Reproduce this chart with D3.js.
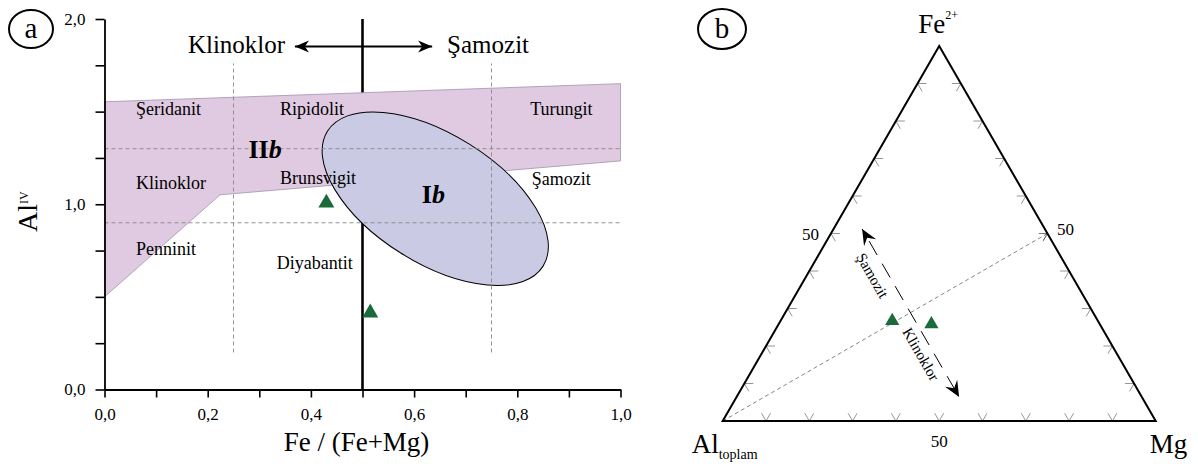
<!DOCTYPE html>
<html>
<head>
<meta charset="utf-8">
<script src="https://cdn.jsdelivr.net/npm/d3@7"></script>
<style>
  body { margin: 0; background: #fff; }
  svg, svg text { font-family: "Liberation Serif", "DejaVu Serif", serif; }
</style>
</head>
<body>
<svg id="chart" width="1198" height="464"></svg>
<script>
// ---- panel a data: Al(IV) vs Fe/(Fe+Mg) ----
var feRatio = [0.43, 0.515];
var alIV = [1.007, 0.414];

// IIb field outline, [Fe/(Fe+Mg), Al IV]
var fieldIIb = [[0, 1.553], [1.0, 1.651], [1.0, 1.234], [0.224, 1.051], [0, 0.5]];
// Ib field ellipse: centre, end of major semi-axis, end of minor semi-axis
var fieldIb = [[0.641, 1.03], [0.850, 0.666], [0.575, 0.735]];

var gridX = [0.25, 0.75];
var gridY = [1.3, 0.9];

var xTickValues = [0, 0.1, 0.2, 0.3, 0.4, 0.5, 0.6, 0.7, 0.8, 0.9, 1.0];
var xTickLabels = ['0,0', '', '0,2', '', '0,4', '', '0,6', '', '0,8', '', '1,0'];
var yTickValues = [0, 0.25, 0.5, 0.75, 1.0, 1.25, 1.5, 1.75, 2.0];
var yTickLabels = ['0,0', '', '', '', '1,0', '', '', '', '2,0'];

var regionNames = ['Şeridanit', 'Ripidolit', 'Turungit', 'Klinoklor', 'Brunsvigit', 'Şamozit', 'Penninit', 'Diyabantit'];
var regionAt = [[0.061, 1.482], [0.340, 1.482], [0.825, 1.482], [0.061, 1.081],
                [0.340, 1.109], [0.828, 1.104], [0.061, 0.726], [0.334, 0.649]];

// ---- panel b data: ternary Al(toplam) - Fe2+ - Mg, in % ----
var ternAl = [47.5, 38.9];
var ternFe = [26.7, 25.8];
var ternMg = [25.8, 35.3];
var ternTicks = [10, 20, 30, 40, 50, 60, 70, 80, 90];

var serif = '"Liberation Serif", "DejaVu Serif", serif';
var svg = d3.select('#chart').attr('font-family', serif);
var defs = svg.append('defs');

function headMarker(id, path, fill, stroke) {
  defs.append('marker')
    .attr('id', id)
    .attr('viewBox', '-18 -9 20 18')
    .attr('refX', 0)
    .attr('refY', 0)
    .attr('markerWidth', 20)
    .attr('markerHeight', 18)
    .attr('markerUnits', 'userSpaceOnUse')
    .attr('orient', 'auto-start-reverse')
    .append('path')
      .attr('d', path)
      .attr('fill', fill)
      .attr('stroke', stroke || 'none');
}
headMarker('headA', 'M0,0 L-14,-6 L-10,0 L-14,6 Z', '#000');
headMarker('headB', 'M0,0 L-16,-7 L-10,0 L-16,7 Z', '#000');
headMarker('chev', 'M-7,-4 L0,0 L-7,4', 'none', '#777');

// =================== panel a ===================
var x = d3.scaleLinear().domain([0, 1]).range([104.5, 620.5]);
var y = d3.scaleLinear().domain([0, 2]).range([389.5, 19]);

var a = svg.append('g');

// Klinoklor / Samozit divide
a.append('line')
  .attr('x1', x(0.5)).attr('x2', x(0.5))
  .attr('y1', y(0)).attr('y2', y(2))
  .attr('stroke', '#000')
  .attr('stroke-width', 2.6);

// IIb field
a.append('path')
  .attr('d', d3.line().x(function(d) { return x(d[0]); }).y(function(d) { return y(d[1]); })(fieldIIb) + 'Z')
  .attr('fill', '#dfcae1')
  .attr('stroke', '#a293b0')
  .attr('stroke-width', 0.8);

// Ib field
var ec = [x(fieldIb[0][0]), y(fieldIb[0][1])];
var em = [x(fieldIb[1][0]), y(fieldIb[1][1])];
var en = [x(fieldIb[2][0]), y(fieldIb[2][1])];
a.append('ellipse')
  .attr('cx', ec[0])
  .attr('cy', ec[1])
  .attr('rx', Math.hypot(em[0] - ec[0], em[1] - ec[1]))
  .attr('ry', Math.hypot(en[0] - ec[0], en[1] - ec[1]))
  .attr('transform', 'rotate(' + (Math.atan2(em[1] - ec[1], em[0] - ec[0]) * 180 / Math.PI) + ',' + ec[0] + ',' + ec[1] + ')')
  .attr('fill', '#cacae5')
  .attr('stroke', '#000')
  .attr('stroke-width', 1);

// dashed divisions
a.selectAll('.gy').data(gridY).enter().append('line')
  .attr('x1', x(0)).attr('x2', x(1))
  .attr('y1', function(d) { return y(d); })
  .attr('y2', function(d) { return y(d); })
  .attr('stroke', '#888').attr('stroke-width', 0.9).attr('stroke-dasharray', '4,3');
a.selectAll('.gx').data(gridX).enter().append('line')
  .attr('x1', function(d) { return x(d); })
  .attr('x2', function(d) { return x(d); })
  .attr('y1', y(0.2)).attr('y2', y(1.76))
  .attr('stroke', '#888').attr('stroke-width', 0.9).attr('stroke-dasharray', '4,3');

// axes
var xAxis = a.append('g')
  .attr('transform', 'translate(0,' + y(0) + ')')
  .call(d3.axisBottom(x).tickValues(xTickValues)
    .tickFormat(function(d, i) { return xTickLabels[i]; })
    .tickSize(8).tickPadding(10).tickSizeOuter(0));
var yAxis = a.append('g')
  .attr('transform', 'translate(' + x(0) + ',0)')
  .call(d3.axisLeft(y).tickValues(yTickValues)
    .tickFormat(function(d, i) { return yTickLabels[i]; })
    .tickSize(9).tickPadding(10).tickSizeOuter(0));
[xAxis, yAxis].forEach(function(ax) {
  ax.attr('font-family', serif).attr('font-size', 17);
  ax.select('.domain').attr('stroke-width', 1.8);
  ax.selectAll('.tick line').attr('stroke-width', 1.6);
});

// region names
a.selectAll('.rn').data(regionNames).enter().append('text')
  .attr('x', function(d, i) { return x(regionAt[i][0]); })
  .attr('y', function(d, i) { return y(regionAt[i][1]); })
  .attr('font-size', 18)
  .text(function(d) { return d; });

var t2 = a.append('text').attr('x', x(0.279)).attr('y', y(1.248)).attr('font-size', 26).attr('font-weight', 'bold');
t2.append('tspan').text('II');
t2.append('tspan').attr('font-style', 'italic').text('b');
var t1 = a.append('text').attr('x', x(0.615)).attr('y', y(1.005)).attr('font-size', 26).attr('font-weight', 'bold');
t1.append('tspan').text('I');
t1.append('tspan').attr('font-style', 'italic').text('b');

// Klinoklor <-> Samozit
a.append('line')
  .attr('x1', x(0.369)).attr('x2', x(0.635))
  .attr('y1', y(1.851)).attr('y2', y(1.851))
  .attr('stroke', '#000').attr('stroke-width', 2)
  .attr('marker-start', 'url(#headA)')
  .attr('marker-end', 'url(#headA)');
a.append('text').attr('x', x(0.350)).attr('y', y(1.816)).attr('text-anchor', 'end')
  .attr('font-size', 25).text('Klinoklor');
a.append('text').attr('x', x(0.664)).attr('y', y(1.816))
  .attr('font-size', 25).text('Şamozit');

// samples
a.selectAll('.pt').data(feRatio).enter().append('path')
  .attr('d', d3.symbol().type(d3.symbolTriangle).size(111))
  .attr('transform', function(d, i) { return 'translate(' + x(d) + ',' + y(alIV[i]) + ')'; })
  .attr('fill', '#1b6b3a');

// axis titles
a.append('text').attr('x', 356.5).attr('y', 451).attr('text-anchor', 'middle')
  .attr('font-size', 27).text('Fe / (Fe+Mg)');
var yl = a.append('text').attr('transform', 'translate(37,232) rotate(-90)').attr('font-size', 28);
yl.append('tspan').text('Al');
yl.append('tspan').attr('font-size', 12).attr('dy', -9).text('IV');

// panel tag
a.append('ellipse').attr('cx', 31).attr('cy', 29).attr('rx', 22).attr('ry', 19)
  .attr('fill', 'none').attr('stroke', '#000').attr('stroke-width', 2);
a.append('text').attr('x', 31).attr('y', 38).attr('text-anchor', 'middle').attr('font-size', 29).text('a');

// =================== panel b ===================
var tx = d3.scaleLinear().domain([0, 100]).range([722.7, 1155.7]);
var ty = d3.scaleLinear().domain([0, 100]).range([421, 421 - 433 * Math.sqrt(3) / 2]);
function tern(al, fe, mg) { return [tx(mg + fe / 2), ty(fe)]; }

var b = svg.append('g');
var pAl = tern(100, 0, 0), pFe = tern(0, 100, 0), pMg = tern(0, 0, 100);

// edge ticks
var tickLen = 9;
var s3 = Math.sqrt(3) / 2;
var tickSets = [
  { at: function(v) { return tern(100 - v, 0, v); }, dirs: [[0.5, -s3], [-0.5, -s3]] },
  { at: function(v) { return tern(100 - v, v, 0); }, dirs: [[1, 0], [0.5, s3]] },
  { at: function(v) { return tern(0, v, 100 - v); }, dirs: [[-1, 0], [-0.5, s3]] }
];
tickSets.forEach(function(ts) {
  ternTicks.forEach(function(v) {
    var p = ts.at(v);
    ts.dirs.forEach(function(dv) {
      b.append('line')
        .attr('x1', p[0]).attr('y1', p[1])
        .attr('x2', p[0] + dv[0] * tickLen).attr('y2', p[1] + dv[1] * tickLen)
        .attr('stroke', '#8a8a8a').attr('stroke-width', 0.9);
    });
  });
});

// Al -> Fe/Mg = 1 guide
var mid = tern(0, 50, 50);
b.append('line')
  .attr('x1', pAl[0]).attr('y1', pAl[1]).attr('x2', mid[0]).attr('y2', mid[1])
  .attr('stroke', '#777').attr('stroke-width', 0.9).attr('stroke-dasharray', '4,3')
  .attr('marker-end', 'url(#chev)');

// outline
b.append('path')
  .attr('d', d3.line()([pAl, pFe, pMg]) + 'Z')
  .attr('fill', 'none').attr('stroke', '#000').attr('stroke-width', 2);

// Samozit <-> Klinoklor arrow
var aTop = tern(42.2, 51.2, 6.6), aBot = tern(42.2, 6.4, 51.4);
b.append('line')
  .attr('x1', aTop[0]).attr('y1', aTop[1]).attr('x2', aBot[0]).attr('y2', aBot[1])
  .attr('stroke', '#000').attr('stroke-width', 1).attr('stroke-dasharray', '16,10')
  .attr('stroke-dashoffset', -14)
  .attr('marker-start', 'url(#headB)')
  .attr('marker-end', 'url(#headB)');
var ang = Math.atan2(aBot[1] - aTop[1], aBot[0] - aTop[0]) * 180 / Math.PI;
[['Şamozit', tern(46, 38.8, 15.2)], ['Klinoklor', tern(45.3, 17.8, 36.9)]].forEach(function(l) {
  b.append('text')
    .attr('transform', 'translate(' + l[1][0] + ',' + l[1][1] + ') rotate(' + ang + ')')
    .attr('text-anchor', 'middle').attr('dy', '0.35em')
    .attr('font-size', 15).text(l[0]);
});

// samples
b.selectAll('.tp').data(ternAl).enter().append('path')
  .attr('d', d3.symbol().type(d3.symbolTriangle).size(88))
  .attr('transform', function(d, i) {
    var p = tern(d, ternFe[i], ternMg[i]);
    return 'translate(' + p[0] + ',' + p[1] + ')';
  })
  .attr('fill', '#1b6b3a');

// 50 labels
var l50 = tern(50, 50, 0), r50 = tern(0, 50, 50), b50 = tern(50, 0, 50);
b.append('text').attr('x', l50[0] - 12).attr('y', l50[1] + 6.5).attr('text-anchor', 'end').attr('font-size', 17).text('50');
b.append('text').attr('x', r50[0] + 9.5).attr('y', r50[1] + 1.5).attr('font-size', 17).text('50');
b.append('text').attr('x', b50[0]).attr('y', b50[1] + 25.5).attr('text-anchor', 'middle').attr('font-size', 17).text('50');

// vertex labels
var fe = b.append('text').attr('x', pFe[0] - 21).attr('y', 33).attr('font-size', 27);
fe.append('tspan').text('Fe');
fe.append('tspan').attr('font-size', 12).attr('dy', -14).text('2+');
var al = b.append('text').attr('x', pAl[0] - 31).attr('y', 453).attr('font-size', 27);
al.append('tspan').text('Al');
al.append('tspan').attr('font-size', 14).attr('dy', 6).text('toplam');
b.append('text').attr('x', pMg[0] - 6).attr('y', 453).attr('font-size', 27).text('Mg');

// panel tag
b.append('ellipse').attr('cx', 722).attr('cy', 29).attr('rx', 24).attr('ry', 20)
  .attr('fill', 'none').attr('stroke', '#000').attr('stroke-width', 2);
b.append('text').attr('x', 722).attr('y', 38).attr('text-anchor', 'middle').attr('font-size', 29).text('b');
</script>
</body>
</html>
